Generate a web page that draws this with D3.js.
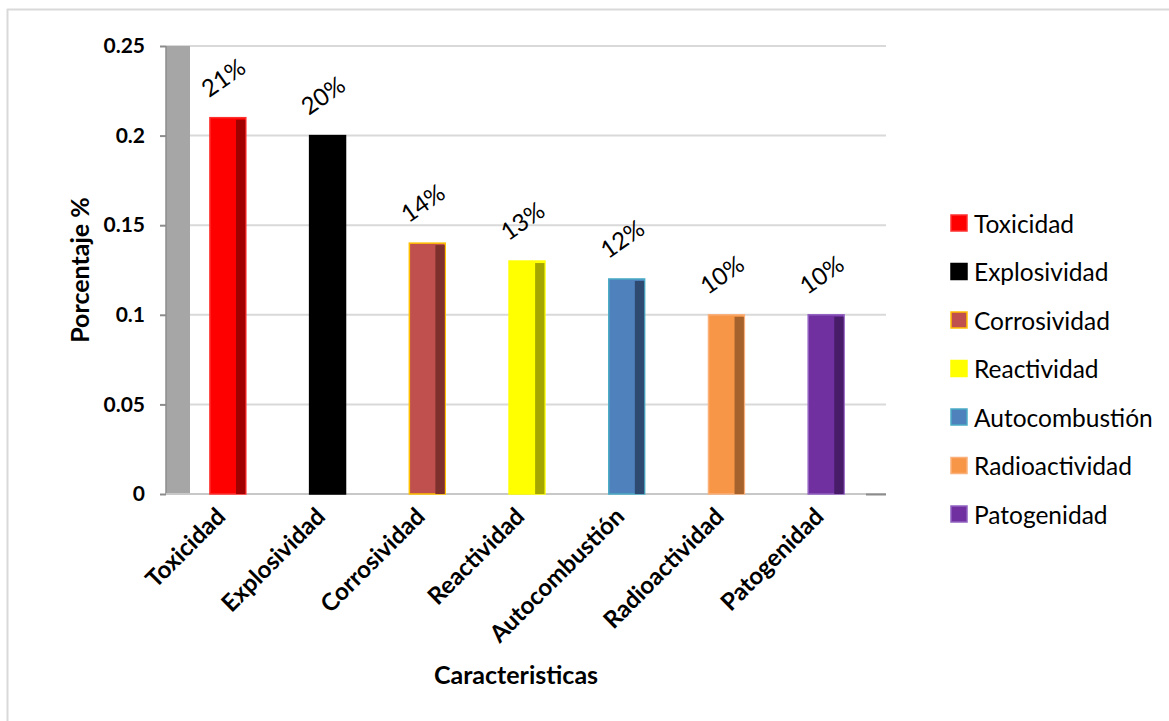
<!DOCTYPE html>
<html>
<head>
<meta charset="utf-8">
<script src="https://cdn.jsdelivr.net/npm/d3@7"></script>
<style>
  html, body { margin: 0; padding: 0; background: #fff; }
  svg { display: block; font-family: Lato, "Open Sans", sans-serif; }
</style>
</head>
<body>
<svg id="chart" width="1169" height="721"></svg>
<script>
// Hazard characteristics and their share
const categories = ["Toxicidad", "Explosividad", "Corrosividad", "Reactividad", "Autocombustión", "Radioactividad", "Patogenidad"];
const values = [0.21, 0.20, 0.14, 0.13, 0.12, 0.10, 0.10];
const yTicks = [0, 0.05, 0.1, 0.15, 0.2, 0.25];
const yTickLabels = ["0", "0.05", "0.1", "0.15", "0.2", "0.25"];

// Palette: front face, shaded side, outline
const faceColors = ["#FF0000", "#000000", "#C0504D", "#FFFF00", "#4F81BD", "#F79646", "#7030A0"];
const sideColors = ["#A00000", "#000000", "#7E302D", "#A6A600", "#2E4A70", "#A5622C", "#481C69"];
const edgeColors = ["#FF3030", "#000000", "#FFC000", "#FFFF00", "#4BACC6", "#FAB07A", "#9060C0"];

const svg = d3.select("#chart");

// Frame edges
svg.append("line").attr("x1", 7.5).attr("x2", 7.5).attr("y1", 9).attr("y2", 721)
  .attr("stroke", "#D9D9D9").attr("stroke-width", 2);
svg.append("line").attr("x1", 7).attr("x2", 1169).attr("y1", 9.5).attr("y2", 9.5)
  .attr("stroke", "#D9D9D9").attr("stroke-width", 2);

const y = d3.scaleLinear().domain([0, 0.25]).range([494, 46]);
const x = d3.scaleBand().domain(categories).range([178, 876])
  .paddingInner(0.64).paddingOuter(0.32);

const plotLeft = 166, plotRight = 886;

// Gridlines
svg.append("g").selectAll("line").data(yTicks.filter(d => d > 0)).join("line")
  .attr("x1", plotLeft).attr("x2", plotRight)
  .attr("y1", d => y(d)).attr("y2", d => y(d))
  .attr("stroke", "#D9D9D9").attr("stroke-width", 2);

// Side wall
svg.append("rect").attr("x", plotLeft).attr("y", y(0.25))
  .attr("width", 24).attr("height", y(0) - y(0.25)).attr("fill", "#A6A6A6");
svg.append("line").attr("x1", plotLeft).attr("x2", plotLeft).attr("y1", y(0.25)).attr("y2", y(0))
  .attr("stroke", "#8C8C8C").attr("stroke-width", 1.5);

// Floor edge
svg.append("line").attr("x1", plotLeft).attr("x2", plotRight).attr("y1", y(0)).attr("y2", y(0))
  .attr("stroke", "#C8C8C8").attr("stroke-width", 2);
svg.append("line").attr("x1", plotRight - 20).attr("x2", plotRight).attr("y1", y(0) + 0.5).attr("y2", y(0) + 0.5)
  .attr("stroke", "#8C8C8C").attr("stroke-width", 2);

// Y axis
const yAxis = d3.axisLeft(y).tickValues(yTicks)
  .tickFormat((d, i) => yTickLabels[i]).tickSize(6).tickPadding(15);
const gy = svg.append("g").attr("transform", `translate(${plotLeft},0)`).call(yAxis);
gy.select(".domain").remove();
gy.selectAll(".tick line").attr("stroke", "#8C8C8C").attr("stroke-width", 2);
gy.selectAll(".tick text").attr("font-size", 21).attr("font-weight", "bold").attr("fill", "#000")
  .attr("font-family", "Lato, sans-serif");

// Bars
const bw = x.bandwidth();
const sideW = bw * 0.26;
const bars = svg.append("g").selectAll("g").data(categories).join("g");
bars.append("rect")
  .attr("x", d => x(d)).attr("y", (d, i) => y(values[i]))
  .attr("width", bw).attr("height", (d, i) => y(0) - y(values[i]))
  .attr("fill", (d, i) => faceColors[i])
  .attr("stroke", (d, i) => edgeColors[i]).attr("stroke-width", 1.5);
bars.append("rect")
  .attr("x", d => x(d) + bw - sideW - 0.5).attr("y", (d, i) => y(values[i]) + 2)
  .attr("width", sideW).attr("height", (d, i) => y(0) - y(values[i]) - 2)
  .attr("fill", (d, i) => sideColors[i]);

// Value labels
const pct = d3.format(".0%");
svg.append("g").selectAll("text").data(categories).join("text")
  .attr("transform", (d, i) => `translate(${x(d) + bw / 2 - 3},${y(values[i]) - 38}) rotate(-35)`)
  .attr("text-anchor", "middle").attr("dominant-baseline", "middle")
  .attr("font-size", 24).attr("fill", "#000")
  .text((d, i) => pct(values[i]));

// Category labels
svg.append("g").selectAll("text").data(categories).join("text")
  .attr("transform", d => `translate(${x(d) + bw / 2 - 1},${y(0) + 24}) rotate(-45)`)
  .attr("text-anchor", "end")
  .attr("font-size", 24).attr("font-weight", "bold").attr("fill", "#000")
  .text(d => d);

// Axis titles
svg.append("text").attr("transform", "translate(89,270) rotate(-90)")
  .attr("text-anchor", "middle").attr("font-size", 25).attr("font-weight", "bold")
  .text("Porcentaje %");
svg.append("text").attr("x", 516).attr("y", 684)
  .attr("text-anchor", "middle").attr("font-size", 25).attr("font-weight", "bold")
  .text("Caracteristicas");

// Legend
const legend = svg.append("g").selectAll("g").data(categories).join("g")
  .attr("transform", (d, i) => `translate(951,${223 + i * 48.5})`);
legend.append("rect").attr("x", 0).attr("y", -8).attr("width", 16).attr("height", 16)
  .attr("fill", (d, i) => faceColors[i])
  .attr("stroke", (d, i) => edgeColors[i]).attr("stroke-width", 1.5);
legend.append("text").attr("x", 23).attr("y", 0).attr("dominant-baseline", "central")
  .attr("font-size", 24.5).attr("fill", "#000").text(d => d);
</script>
</body>
</html>
